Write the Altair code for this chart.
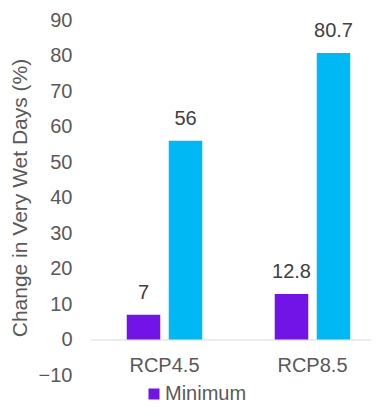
import altair as alt
import pandas as pd

scenarios = ["RCP4.5", "RCP8.5"]
series_names = ["Minimum", "Maximum"]
minimum = [7, 12.8]
maximum = [56, 80.7]
colors = ["#7214E8", "#00B8F4"]
y_ticks = [-10, 0, 10, 20, 30, 40, 50, 60, 70, 80, 90]

rows = []
for i, s in enumerate(scenarios):
    rows.append({"scenario": s, "series": series_names[0], "value": minimum[i]})
    rows.append({"scenario": s, "series": series_names[1], "value": maximum[i]})
df = pd.DataFrame(rows)

FONT = "Liberation Sans"

x = alt.X(
    "scenario:N",
    sort=scenarios,
    scale=alt.Scale(range=[-0.5, 295.5], paddingInner=0, paddingOuter=0),
    axis=alt.Axis(
        title=None,
        orient="bottom",
        offset=-35.5,
        domainColor="#D9D9D9",
        domainWidth=1,
        ticks=False,
        tickSize=0,
        labelAngle=0,
        labelFont=FONT,
        labelFontSize=20,
        labelColor="#595959",
        labelPadding=16,
        grid=False,
    ),
)
xo = alt.XOffset(
    "series:N",
    sort=series_names,
    scale=alt.Scale(paddingInner=0.2024, paddingOuter=0.863),
)
y = alt.Y(
    "value:Q",
    scale=alt.Scale(domain=[-10, 90], nice=False),
    axis=alt.Axis(
        title="Change in Very Wet Days (%)",
        values=y_ticks,
        domain=False,
        ticks=False,
        tickSize=0,
        grid=False,
        labelFont=FONT,
        labelFontSize=20,
        labelColor="#595959",
        labelPadding=19,
        titleFont=FONT,
        titleFontSize=21,
        titleFontWeight="normal",
        titleColor="#595959",
        titlePadding=8,
    ),
)

bars = alt.Chart(df).mark_bar().encode(
    x=x,
    xOffset=xo,
    y=y,
    color=alt.Color(
        "series:N",
        sort=series_names,
        scale=alt.Scale(domain=series_names, range=colors),
        legend=alt.Legend(
            title=None,
            values=["Minimum"],
            orient="none",
            legendX=53,
            legendY=364,
            symbolType="square",
            symbolSize=121,
            symbolStrokeWidth=0,
            labelFont=FONT,
            labelFontSize=20,
            labelColor="#595959",
            labelOffset=1,
            padding=0,
        ),
    ),
)

labels = alt.Chart(df).mark_text(
    baseline="alphabetic", dy=-16, font=FONT, fontSize=20, color="#404040"
).encode(
    x=x,
    xOffset=xo,
    y=y,
    text=alt.Text("value:Q", format="~g"),
)

chart = (
    alt.layer(bars, labels)
    .properties(
        width=280,
        height=355,
        background="white",
        autosize=alt.AutoSizeParams(type="none"),
        padding={"left": 83, "top": 12, "right": 0, "bottom": 33},
    )
    .configure_view(strokeWidth=0, stroke="transparent")
)

chart.save("out.html", embed_options={"renderer": "svg", "actions": False})
